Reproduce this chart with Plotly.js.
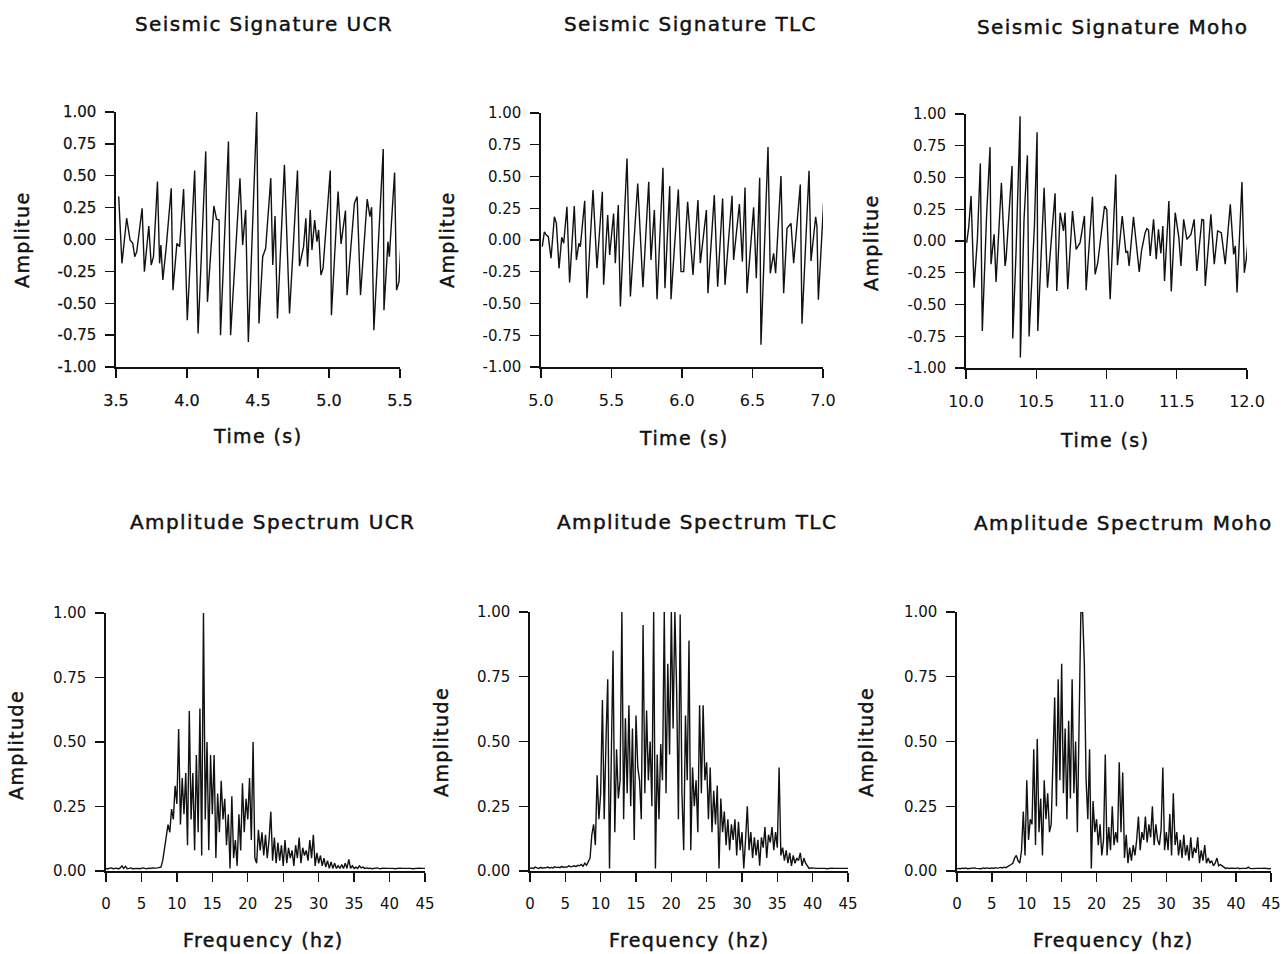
<!DOCTYPE html>
<html>
<head>
<meta charset="utf-8">
<script src="https://cdn.plot.ly/plotly-3.0.1.min.js"></script>
<style>
html,body{margin:0;padding:0;background:#ffffff;}
#chart{width:1285px;height:954px;}
.annotation-text{letter-spacing:1.4px;stroke:#111111;stroke-width:0.45px;}
.xtick text,.ytick text{stroke:#111111;stroke-width:0.25px;}
</style>
</head>
<body>
<div id="chart"></div>
<script>
// ---------- DATA ----------
const ucrTime = [3.519,3.542,3.575,3.599,3.618,3.632,3.646,3.684,3.700,3.731,3.748,3.764,3.792,3.807,3.816,3.830,3.854,3.889,3.901,3.929,3.948,3.976,4.002,4.054,4.078,4.132,4.144,4.189,4.208,4.226,4.236,4.292,4.307,4.373,4.392,4.413,4.432,4.491,4.507,4.533,4.554,4.590,4.604,4.620,4.637,4.686,4.722,4.778,4.792,4.821,4.837,4.849,4.868,4.880,4.899,4.915,4.927,4.943,4.958,5.009,5.017,5.064,5.085,5.116,5.127,5.179,5.198,5.222,5.269,5.288,5.300,5.316,5.382,5.387,5.415,5.425,5.462,5.476,5.493,5.517];
const ucrAmp = [0.337,-0.187,0.167,-0.004,-0.030,-0.135,-0.096,0.245,-0.253,0.106,-0.200,-0.135,0.455,-0.187,-0.043,-0.318,-0.056,0.402,-0.397,-0.030,-0.056,0.395,-0.633,0.541,-0.738,0.691,-0.489,0.263,0.159,0.153,-0.751,0.769,-0.751,0.481,-0.043,0.232,-0.803,1.000,-0.659,-0.135,-0.069,0.481,-0.200,0.185,-0.620,0.586,-0.580,0.541,-0.208,-0.056,0.167,-0.213,0.232,-0.082,0.153,-0.017,0.075,-0.279,-0.227,0.541,-0.594,0.376,-0.035,0.227,-0.436,0.284,0.337,-0.436,0.316,0.180,0.253,-0.711,0.709,-0.554,-0.017,-0.135,0.526,-0.397,-0.331,0.206];

const tlcTime = [5.009,5.024,5.038,5.052,5.071,5.095,5.109,5.128,5.147,5.161,5.184,5.203,5.236,5.251,5.269,5.279,5.310,5.326,5.369,5.397,5.435,5.444,5.473,5.487,5.515,5.527,5.548,5.563,5.610,5.634,5.686,5.723,5.764,5.780,5.804,5.823,5.865,5.879,5.913,5.922,5.974,5.993,6.012,6.040,6.078,6.113,6.130,6.173,6.184,6.229,6.253,6.288,6.305,6.355,6.366,6.407,6.428,6.447,6.461,6.508,6.527,6.551,6.560,6.610,6.626,6.650,6.664,6.702,6.721,6.745,6.773,6.792,6.839,6.851,6.901,6.915,6.948,6.957,6.967,7.016,7.024];
const tlcAmp = [-0.052,0.065,0.039,0.026,-0.144,0.183,0.131,-0.223,0.021,-0.026,0.262,-0.335,0.267,-0.157,-0.026,-0.052,0.309,-0.458,0.393,-0.223,0.380,-0.353,0.196,-0.118,0.209,-0.183,0.275,-0.524,0.641,-0.445,0.445,-0.372,0.458,-0.157,0.236,-0.466,0.568,-0.380,0.424,-0.466,0.398,-0.249,-0.249,0.301,-0.275,0.314,-0.183,0.236,-0.419,0.353,-0.367,0.327,-0.353,0.348,-0.157,0.283,-0.170,0.414,-0.419,0.257,-0.301,0.490,-0.825,0.733,-0.262,-0.105,-0.262,0.503,-0.419,0.092,0.131,-0.183,0.437,-0.660,0.545,-0.165,0.183,0.105,-0.471,0.537,0.393];

const mohoTime = [10.005,10.019,10.036,10.057,10.081,10.102,10.116,10.147,10.171,10.178,10.200,10.214,10.252,10.278,10.285,10.328,10.333,10.356,10.385,10.387,10.413,10.437,10.449,10.487,10.506,10.511,10.556,10.580,10.634,10.646,10.670,10.694,10.705,10.724,10.758,10.784,10.812,10.843,10.855,10.900,10.919,10.938,10.986,11.002,11.026,11.066,11.078,11.112,11.138,11.150,11.161,11.192,11.233,11.249,11.275,11.287,11.299,11.311,11.335,11.354,11.370,11.387,11.401,11.413,11.444,11.461,11.489,11.515,11.530,11.549,11.572,11.601,11.624,11.643,11.679,11.691,11.703,11.743,11.767,11.791,11.817,11.845,11.881,11.905,11.917,11.929,11.964,11.981,11.995,12.019,12.024];
const mohoAmp = [-0.013,0.105,0.354,-0.367,0.013,0.611,-0.708,0.210,0.739,-0.183,0.052,-0.322,0.459,-0.197,-0.144,0.590,-0.768,-0.092,0.983,-0.917,0.170,0.674,-0.752,0.118,0.857,-0.708,0.419,-0.367,0.375,-0.393,0.223,0.079,0.223,-0.380,0.236,-0.066,-0.013,0.197,-0.388,0.349,-0.262,-0.170,0.275,0.249,-0.459,0.524,-0.191,0.197,-0.092,-0.079,-0.197,0.191,-0.244,-0.079,0.066,0.097,0.086,-0.118,0.170,-0.144,0.092,-0.097,0.118,-0.315,0.315,-0.398,0.223,0.026,-0.197,0.170,0.013,0.052,0.170,-0.236,0.170,0.165,-0.354,0.210,-0.183,0.079,0.066,-0.183,0.288,-0.105,-0.039,-0.406,0.464,-0.249,-0.144,0.144,0.013];

// spectra sampled every 0.25 Hz from 0 to 45 Hz
const freqStart = 0;
const freqStep = 0.25;
const ucrSpec = [
0.010,0.008,0.011,0.012, 0.009,0.010,0.011,0.008, 0.012,0.020,0.010,0.018, 0.009,0.010,0.012,0.009,
0.010,0.011,0.010,0.009, 0.010,0.012,0.010,0.009, 0.011,0.010,0.012,0.010, 0.011,0.012,0.013,0.015,
0.040,0.090,0.120,0.180, 0.150,0.240,0.200,0.330, 0.260,0.550,0.180,0.360, 0.220,0.380,0.100,0.620,
0.200,0.380,0.080,0.450, 0.150,0.630,0.060,1.000, 0.200,0.500,0.080,0.450, 0.220,0.450,0.050,0.300,
0.150,0.350,0.200,0.280, 0.100,0.220,0.010,0.290, 0.050,0.120,0.020,0.220, 0.080,0.340,0.150,0.280,
0.200,0.360,0.120,0.500, 0.050,0.030,0.160,0.080, 0.150,0.060,0.140,0.050, 0.120,0.230,0.040,0.130,
0.030,0.110,0.040,0.100, 0.020,0.120,0.030,0.090, 0.050,0.080,0.020,0.100, 0.050,0.130,0.030,0.090,
0.060,0.080,0.040,0.120, 0.050,0.140,0.020,0.070, 0.030,0.060,0.020,0.050, 0.015,0.040,0.010,0.035,
0.010,0.030,0.010,0.020, 0.010,0.025,0.010,0.030, 0.010,0.045,0.010,0.020, 0.010,0.015,0.010,0.020,
0.012,0.015,0.010,0.012, 0.010,0.011,0.009,0.010, 0.010,0.012,0.010,0.009, 0.011,0.010,0.009,0.010,
0.010,0.011,0.010,0.009, 0.010,0.010,0.011,0.010, 0.009,0.010,0.010,0.011, 0.010,0.009,0.010,0.010,
0.010,0.011,0.010,0.009, 0.010];
const tlcSpec = [
0.010,0.012,0.010,0.015, 0.012,0.010,0.014,0.011, 0.013,0.012,0.015,0.012, 0.014,0.012,0.016,0.013,
0.015,0.013,0.018,0.014, 0.016,0.015,0.020,0.016, 0.018,0.020,0.017,0.022, 0.020,0.025,0.018,0.030,
0.022,0.035,0.050,0.140, 0.180,0.100,0.370,0.200, 0.300,0.660,0.200,0.500, 0.740,0.010,0.450,0.850,
0.150,0.470,0.280,0.350, 1.000,0.200,0.590,0.300, 0.640,0.250,0.550,0.120, 0.600,0.400,0.350,0.200,
0.950,0.300,0.620,0.350, 0.500,0.250,1.000,0.010, 0.450,0.200,0.490,0.350, 1.000,0.300,0.800,0.450,
1.000,0.550,1.000,0.700, 0.200,0.990,0.300,0.080, 0.600,0.350,0.890,0.080, 0.400,0.250,0.350,0.150,
0.640,0.300,0.640,0.350, 0.420,0.200,0.400,0.150, 0.310,0.180,0.330,0.010, 0.280,0.150,0.230,0.100,
0.200,0.080,0.180,0.120, 0.200,0.060,0.190,0.080, 0.150,0.010,0.120,0.250, 0.080,0.150,0.050,0.130,
0.060,0.120,0.020,0.130, 0.090,0.170,0.050,0.140, 0.110,0.170,0.080,0.150, 0.090,0.400,0.060,0.090,
0.040,0.080,0.030,0.070, 0.020,0.060,0.030,0.050, 0.040,0.070,0.020,0.050, 0.030,0.020,0.010,0.012,
0.010,0.011,0.010,0.009, 0.010,0.010,0.011,0.010, 0.009,0.010,0.010,0.011, 0.010,0.009,0.010,0.010,
0.010,0.011,0.010,0.009, 0.010];
const mohoSpec = [
0.008,0.010,0.009,0.011, 0.010,0.012,0.009,0.010, 0.011,0.010,0.012,0.010, 0.010,0.011,0.009,0.012,
0.010,0.012,0.011,0.010, 0.012,0.010,0.013,0.011, 0.012,0.014,0.012,0.015, 0.013,0.016,0.020,0.025,
0.030,0.050,0.060,0.040, 0.030,0.080,0.230,0.060, 0.350,0.120,0.200,0.180, 0.470,0.100,0.510,0.150,
0.280,0.060,0.350,0.200, 0.300,0.150,0.180,0.400, 0.670,0.250,0.740,0.350, 0.800,0.300,0.550,0.200,
0.580,0.280,0.740,0.300, 0.500,0.150,0.600,1.000, 1.000,0.800,0.350,0.200, 0.470,0.010,0.270,0.150,
0.200,0.100,0.180,0.060, 0.120,0.450,0.060,0.170, 0.080,0.250,0.100,0.150, 0.110,0.420,0.150,0.380,
0.050,0.140,0.030,0.090, 0.040,0.100,0.060,0.120, 0.210,0.080,0.150,0.120, 0.210,0.110,0.180,0.130,
0.250,0.100,0.180,0.120, 0.100,0.160,0.400,0.080, 0.150,0.080,0.220,0.060, 0.300,0.100,0.150,0.060,
0.120,0.050,0.140,0.060, 0.100,0.040,0.130,0.050, 0.090,0.070,0.130,0.030, 0.080,0.040,0.100,0.030,
0.050,0.030,0.040,0.020, 0.030,0.050,0.020,0.025, 0.020,0.015,0.010,0.012, 0.010,0.011,0.010,0.009,
0.010,0.012,0.009,0.010, 0.010,0.011,0.010,0.015, 0.010,0.009,0.010,0.011, 0.010,0.010,0.009,0.010,
0.011,0.010,0.010,0.009, 0.010];

const ampTickVals = [-1,-0.75,-0.5,-0.25,0,0.25,0.5,0.75,1];
const ampTickText = ['-1.00','-0.75','-0.50','-0.25','0.00','0.25','0.50','0.75','1.00'];
const specTickVals = [0,0.25,0.5,0.75,1];
const specTickText = ['0.00','0.25','0.50','0.75','1.00'];
const freqTickVals = [0,5,10,15,20,25,30,35,40,45];

const titles = ['Seismic Signature UCR','Seismic Signature TLC','Seismic Signature Moho',
                'Amplitude Spectrum UCR','Amplitude Spectrum TLC','Amplitude Spectrum Moho'];
const xTitles = ['Time (s)','Time (s)','Time (s)','Frequency (hz)','Frequency (hz)','Frequency (hz)'];
const yTitles = ['Amplitue','Amplitue','Amplitue','Amplitude','Amplitude','Amplitude'];

// ---------- LAYOUT ----------
const W = 1285, H = 954;
const fx = p => p / W;
const fy = p => 1 - p / H;
const FONT = 'DejaVu Sans, Verdana, Arial, sans-serif';
const INK = '#111111';

const panels = [
  {x:[116,400], y:[112,367], xr:[3.5,5.5], tv:[3.5,4,4.5,5,5.5]},
  {x:[541,823], y:[113,367], xr:[5,7], tv:[5,5.5,6,6.5,7]},
  {x:[966,1247], y:[114,368], xr:[10,12], tv:[10,10.5,11,11.5,12]},
  {x:[106,425], y:[613,871], xr:[0,45], tv:freqTickVals},
  {x:[530,848], y:[612,871], xr:[0,45], tv:freqTickVals},
  {x:[957,1271], y:[612,871], xr:[0,45], tv:freqTickVals}
];
const titlePos = [[264,24],[690,24],[1112,27],[272,522],[697,522],[1123,523]];
const xTitlePos = [[257,436],[683,438],[1104,440],[263,940],[689,940],[1113,940]];
const yTitlePos = [[22,240],[447,240],[871,243],[16,745],[441,742],[866,742]];

const layout = {
  width: W, height: H,
  margin: {l:0, r:0, t:0, b:0},
  paper_bgcolor: '#ffffff', plot_bgcolor: '#ffffff',
  showlegend: false,
  font: {family: FONT, color: INK},
  annotations: []
};

panels.forEach((p, i) => {
  const n = i === 0 ? '' : String(i + 1);
  const top = i < 3;
  layout['xaxis' + n] = {
    domain: [fx(p.x[0]), fx(p.x[1])],
    anchor: 'y' + n,
    range: p.xr,
    tickvals: p.tv,
    tickformat: top ? '.1f' : 'd',
    showline: true, linecolor: INK, linewidth: 1.6,
    ticks: 'outside', ticklen: 9, tickwidth: 1.4, tickcolor: INK,
    ticklabelstandoff: 9,
    ticklabeloverflow: 'allow',
    tickfont: {family: FONT, size: top ? 16 : 15, color: INK},
    showgrid: false, zeroline: false, fixedrange: true
  };
  layout['yaxis' + n] = {
    domain: [fy(p.y[1]), fy(p.y[0])],
    anchor: 'x' + n,
    range: top ? [-1, 1] : [0, 1],
    tickvals: top ? ampTickVals : specTickVals,
    ticktext: top ? ampTickText : specTickText,
    showline: true, linecolor: INK, linewidth: 1.6,
    ticks: 'outside', ticklen: 9, tickwidth: 1.4, tickcolor: INK,
    ticklabelstandoff: 6,
    ticklabeloverflow: 'allow',
    tickfont: {family: FONT, size: 15, color: INK},
    showgrid: false, zeroline: false, fixedrange: true
  };
  layout.annotations.push({
    text: titles[i], xref: 'paper', yref: 'paper',
    x: fx(titlePos[i][0]), y: fy(titlePos[i][1]),
    xanchor: 'center', yanchor: 'middle', showarrow: false,
    font: {family: FONT, size: 20, color: INK}
  });
  layout.annotations.push({
    text: xTitles[i], xref: 'paper', yref: 'paper',
    x: fx(xTitlePos[i][0]), y: fy(xTitlePos[i][1]),
    xanchor: 'center', yanchor: 'middle', showarrow: false,
    font: {family: FONT, size: 19, color: INK}
  });
  layout.annotations.push({
    text: yTitles[i], xref: 'paper', yref: 'paper',
    x: fx(yTitlePos[i][0]), y: fy(yTitlePos[i][1]),
    xanchor: 'center', yanchor: 'middle', showarrow: false, textangle: -90,
    font: {family: FONT, size: 19, color: INK}
  });
});

const sigLine = {color: INK, width: 1.4};
const specLine = {color: INK, width: 1.4};
const data = [
  {x: ucrTime, y: ucrAmp, xaxis: 'x', yaxis: 'y', mode: 'lines', line: sigLine},
  {x: tlcTime, y: tlcAmp, xaxis: 'x2', yaxis: 'y2', mode: 'lines', line: sigLine},
  {x: mohoTime, y: mohoAmp, xaxis: 'x3', yaxis: 'y3', mode: 'lines', line: sigLine},
  {x0: freqStart, dx: freqStep, y: ucrSpec, xaxis: 'x4', yaxis: 'y4', mode: 'lines', line: specLine},
  {x0: freqStart, dx: freqStep, y: tlcSpec, xaxis: 'x5', yaxis: 'y5', mode: 'lines', line: specLine},
  {x0: freqStart, dx: freqStep, y: mohoSpec, xaxis: 'x6', yaxis: 'y6', mode: 'lines', line: specLine}
];

Plotly.newPlot('chart', data, layout, {staticPlot: true, displayModeBar: false});
</script>
</body>
</html>
